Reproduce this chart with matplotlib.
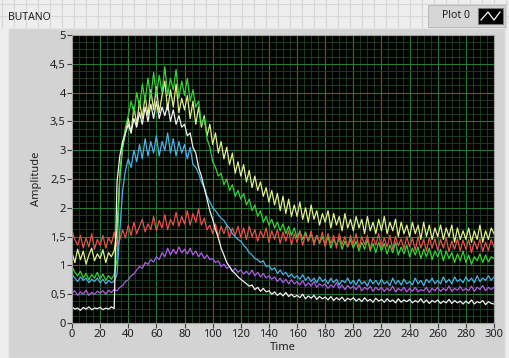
import numpy as np
import matplotlib.pyplot as plt
from matplotlib.lines import Line2D
from matplotlib.patches import Rectangle
from matplotlib.ticker import MultipleLocator

plt.rcParams['font.family'] = ['Noto Sans', 'DejaVu Sans']

time = np.arange(0, 301, 2)

yellow = [
    1.22, 1.05, 1.28, 1.10, 1.25, 1.02, 1.18, 1.30, 1.08, 1.20,
    1.12, 1.27, 1.05, 1.22, 1.15, 1.26, 1.60, 2.55, 3.05, 3.30,
    3.55, 3.30, 3.75, 3.45, 3.85, 3.55, 3.95, 3.60, 4.05, 3.70,
    4.10, 3.65, 3.95, 4.20, 3.70, 4.05, 3.75, 4.15, 3.65, 3.90,
    3.70, 3.95, 3.55, 3.85, 3.45, 3.75, 3.40, 3.60, 3.25, 3.45,
    3.10, 3.30, 2.95, 3.15, 2.85, 3.05, 2.75, 2.95, 2.60, 2.80,
    2.55, 2.75, 2.45, 2.65, 2.35, 2.55, 2.30, 2.45, 2.20, 2.35,
    2.10, 2.30, 2.05, 2.25, 1.95, 2.20, 1.90, 2.15, 1.85, 2.05,
    1.85, 2.10, 1.80, 2.00, 1.75, 2.05, 1.80, 1.95, 1.70, 1.90,
    1.75, 1.95, 1.65, 1.90, 1.70, 1.85, 1.60, 1.90, 1.65, 1.80,
    1.60, 1.85, 1.65, 1.80, 1.55, 1.85, 1.60, 1.75, 1.55, 1.80,
    1.60, 1.85, 1.55, 1.75, 1.60, 1.80, 1.50, 1.75, 1.55, 1.70,
    1.50, 1.75, 1.55, 1.70, 1.45, 1.75, 1.50, 1.70, 1.45, 1.65,
    1.50, 1.70, 1.45, 1.65, 1.50, 1.70, 1.40, 1.65, 1.45, 1.60,
    1.45, 1.65, 1.40, 1.60, 1.45, 1.70, 1.40, 1.60, 1.45, 1.65,
    1.55]

green = [
    0.98, 0.88, 0.82, 0.90, 0.78, 0.86, 0.75, 0.84, 0.78, 0.88,
    0.76, 0.85, 0.74, 0.82, 0.76, 0.84, 1.10, 2.60, 3.10, 3.40,
    3.60, 3.85, 3.65, 4.00, 3.75, 4.15, 3.85, 4.25, 3.90, 4.35,
    3.95, 4.30, 4.00, 4.45, 3.95, 4.25, 4.05, 4.40, 3.90, 4.20,
    3.95, 4.25, 3.85, 4.05, 3.75, 3.85, 3.45, 3.55, 3.20, 3.05,
    2.80, 2.70, 2.55, 2.60, 2.40, 2.50, 2.30, 2.40, 2.20, 2.30,
    2.15, 2.25, 2.05, 2.15, 1.95, 2.05, 1.85, 1.95, 1.75, 1.85,
    1.70, 1.80, 1.65, 1.75, 1.60, 1.72, 1.55, 1.68, 1.52, 1.65,
    1.48, 1.60, 1.45, 1.58, 1.42, 1.55, 1.40, 1.52, 1.38, 1.50,
    1.35, 1.50, 1.30, 1.45, 1.35, 1.48, 1.28, 1.42, 1.32, 1.45,
    1.30, 1.42, 1.25, 1.40, 1.28, 1.45, 1.25, 1.38, 1.22, 1.40,
    1.25, 1.38, 1.20, 1.35, 1.22, 1.40, 1.18, 1.32, 1.20, 1.35,
    1.15, 1.30, 1.18, 1.32, 1.12, 1.28, 1.15, 1.30, 1.10, 1.25,
    1.15, 1.28, 1.08, 1.25, 1.12, 1.22, 1.05, 1.20, 1.08, 1.25,
    1.05, 1.18, 1.02, 1.15, 1.08, 1.20, 1.05, 1.18, 1.06, 1.15,
    1.12]

red = [
    1.60, 1.45, 1.35, 1.52, 1.30, 1.48, 1.32, 1.55, 1.28, 1.45,
    1.35, 1.52, 1.30, 1.48, 1.38, 1.58, 1.32, 1.45, 1.62, 1.48,
    1.70, 1.52, 1.75, 1.55, 1.68, 1.80, 1.58, 1.72, 1.62, 1.85,
    1.60, 1.78, 1.65, 1.88, 1.62, 1.80, 1.70, 1.92, 1.68, 1.85,
    1.72, 1.95, 1.70, 1.90, 1.75, 1.98, 1.70, 1.82, 1.62, 1.70,
    1.55, 1.72, 1.50, 1.68, 1.55, 1.70, 1.48, 1.65, 1.52, 1.68,
    1.48, 1.65, 1.45, 1.68, 1.50, 1.62, 1.42, 1.60, 1.48, 1.65,
    1.40, 1.60, 1.45, 1.62, 1.38, 1.58, 1.42, 1.60, 1.36, 1.55,
    1.40, 1.58, 1.35, 1.55, 1.42, 1.60, 1.35, 1.52, 1.40, 1.58,
    1.32, 1.55, 1.38, 1.52, 1.30, 1.55, 1.36, 1.50, 1.32, 1.52,
    1.35, 1.55, 1.30, 1.50, 1.36, 1.52, 1.28, 1.48, 1.35, 1.55,
    1.30, 1.48, 1.32, 1.52, 1.28, 1.50, 1.34, 1.46, 1.28, 1.50,
    1.32, 1.48, 1.26, 1.50, 1.30, 1.45, 1.25, 1.48, 1.30, 1.46,
    1.26, 1.45, 1.30, 1.48, 1.24, 1.42, 1.28, 1.46, 1.25, 1.44,
    1.28, 1.45, 1.22, 1.42, 1.28, 1.46, 1.24, 1.40, 1.26, 1.45,
    1.32]

blue = [
    0.85, 0.78, 0.72, 0.80, 0.74, 0.78, 0.70, 0.76, 0.72, 0.78,
    0.70, 0.76, 0.68, 0.74, 0.70, 0.72, 0.85, 1.60, 2.30, 2.65,
    2.85, 2.70, 3.00, 2.80, 3.10, 2.85, 3.20, 2.90, 3.15, 2.95,
    3.25, 2.90, 3.15, 3.00, 3.30, 2.95, 3.20, 2.90, 3.15, 2.95,
    3.10, 2.85, 3.05, 2.75, 2.70, 2.60, 2.45, 2.35, 2.20, 2.10,
    2.00, 1.95, 1.88, 1.82, 1.78, 1.70, 1.65, 1.55, 1.50, 1.45,
    1.42, 1.35, 1.30, 1.22, 1.18, 1.12, 1.10, 1.05, 1.08, 0.98,
    1.00, 0.92, 0.96, 0.86, 0.92, 0.84, 0.88, 0.80, 0.85, 0.78,
    0.82, 0.76, 0.84, 0.74, 0.80, 0.72, 0.78, 0.70, 0.80, 0.72,
    0.76, 0.68, 0.78, 0.70, 0.76, 0.66, 0.74, 0.70, 0.78, 0.68,
    0.74, 0.66, 0.76, 0.68, 0.72, 0.64, 0.76, 0.68, 0.74, 0.66,
    0.76, 0.68, 0.72, 0.65, 0.78, 0.68, 0.74, 0.66, 0.76, 0.68,
    0.72, 0.66, 0.78, 0.68, 0.74, 0.65, 0.76, 0.70, 0.78, 0.68,
    0.74, 0.68, 0.80, 0.70, 0.76, 0.68, 0.80, 0.72, 0.76, 0.70,
    0.80, 0.72, 0.78, 0.70, 0.82, 0.72, 0.78, 0.74, 0.82, 0.74,
    0.80]

purple = [
    0.52, 0.56, 0.48, 0.54, 0.50, 0.57, 0.48, 0.53, 0.50, 0.55,
    0.52, 0.56, 0.50, 0.57, 0.53, 0.58, 0.56, 0.62, 0.65, 0.72,
    0.75, 0.82, 0.85, 0.92, 0.98, 0.95, 1.05, 1.02, 1.10, 1.06,
    1.15, 1.10, 1.22, 1.15, 1.30, 1.18, 1.28, 1.20, 1.32, 1.22,
    1.28, 1.20, 1.30, 1.18, 1.25, 1.15, 1.22, 1.12, 1.18, 1.10,
    1.12, 1.05, 1.08, 0.98, 1.02, 0.95, 0.98, 0.90, 0.95, 0.88,
    0.92, 0.85, 0.90, 0.84, 0.92, 0.82, 0.88, 0.80, 0.86, 0.78,
    0.82, 0.76, 0.80, 0.72, 0.78, 0.70, 0.76, 0.68, 0.75, 0.68,
    0.72, 0.66, 0.74, 0.64, 0.70, 0.64, 0.72, 0.62, 0.68, 0.64,
    0.68, 0.60, 0.66, 0.62, 0.70, 0.60, 0.66, 0.58, 0.65, 0.60,
    0.64, 0.58, 0.66, 0.56, 0.62, 0.58, 0.64, 0.55, 0.62, 0.57,
    0.62, 0.55, 0.60, 0.56, 0.64, 0.54, 0.60, 0.56, 0.62, 0.54,
    0.60, 0.55, 0.62, 0.54, 0.58, 0.56, 0.62, 0.53, 0.60, 0.56,
    0.62, 0.55, 0.60, 0.56, 0.64, 0.55, 0.60, 0.57, 0.63, 0.56,
    0.60, 0.56, 0.64, 0.55, 0.62, 0.58, 0.65, 0.56, 0.62, 0.58,
    0.62]

white = [
    0.28, 0.24, 0.26, 0.22, 0.27, 0.24, 0.28, 0.23, 0.26, 0.25,
    0.27, 0.23, 0.26, 0.24, 0.28, 0.25, 2.45, 2.90, 3.15, 3.30,
    3.45, 3.30, 3.55, 3.40, 3.65, 3.45, 3.75, 3.50, 3.80, 3.55,
    3.85, 3.55, 3.75, 3.60, 3.80, 3.50, 3.70, 3.45, 3.60, 3.40,
    3.45, 3.25, 3.30, 3.05, 2.95, 2.70, 2.55, 2.35, 2.15, 1.95,
    1.80, 1.62, 1.48, 1.30, 1.18, 1.05, 0.98, 0.90, 0.86, 0.80,
    0.76, 0.72, 0.68, 0.64, 0.66, 0.58, 0.62, 0.55, 0.60, 0.54,
    0.56, 0.50, 0.54, 0.48, 0.52, 0.47, 0.53, 0.46, 0.50, 0.45,
    0.48, 0.44, 0.50, 0.42, 0.47, 0.43, 0.48, 0.41, 0.46, 0.42,
    0.45, 0.40, 0.46, 0.39, 0.44, 0.40, 0.45, 0.38, 0.43, 0.40,
    0.44, 0.38, 0.42, 0.37, 0.44, 0.38, 0.41, 0.36, 0.43, 0.38,
    0.41, 0.36, 0.42, 0.37, 0.40, 0.35, 0.42, 0.36, 0.40, 0.37,
    0.41, 0.35, 0.39, 0.36, 0.42, 0.35, 0.40, 0.34, 0.39, 0.36,
    0.40, 0.34, 0.38, 0.35, 0.41, 0.34, 0.39, 0.35, 0.38, 0.33,
    0.38, 0.34, 0.40, 0.33, 0.37, 0.35, 0.39, 0.32, 0.37, 0.34,
    0.33]

series = [yellow, green, red, blue, purple, white]
colors = ['#e2f08a', '#35d435', '#e8524a', '#4ab4ea', '#b05ee8', '#f2f2f2']

ytick_vals = [0, 0.5, 1, 1.5, 2, 2.5, 3, 3.5, 4, 4.5, 5]
ytick_labels = ['0', '0,5', '1', '1,5', '2', '2,5', '3', '3,5', '4', '4,5', '5']
xtick_vals = list(range(0, 301, 20))

W, H = 510, 358
fig = plt.figure(figsize=(W / 100, H / 100), dpi=100)
fig.patch.set_facecolor('#eeeeee')

# bande du haut (grille de l'éditeur LabVIEW)
for gx in range(2, W, 12):
    fig.add_artist(Line2D([gx / W, gx / W], [1 - 28 / H, 1], color='#d8d8d8', lw=0.8, zorder=0.1))
for gy in range(4, 28, 12):
    fig.add_artist(Line2D([0, 1], [1 - gy / H, 1 - gy / H], color='#d8d8d8', lw=0.8, zorder=0.1))

# panneau gris du graphe
fig.add_artist(Rectangle((8 / W, 0), (W - 13) / W, 1 - 28 / H,
                         transform=fig.transFigure, facecolor='#d3d3d3',
                         edgecolor='#e6e6e6', lw=1.0, zorder=0.2))

fig.text(8 / W, 1 - 18 / H, 'BUTANO', fontsize=7.5, color='#202020', va='center', ha='left')

# légende "Plot 0"
fig.add_artist(Rectangle((428 / W, 1 - 27 / H), 77 / W, 22 / H,
                         transform=fig.transFigure, facecolor='#d6d6d6',
                         edgecolor='#bcbcbc', lw=0.8, zorder=3))
fig.text(470 / W, 1 - 16 / H, 'Plot 0', fontsize=7.5, color='#202020',
         va='center', ha='right', zorder=4)
fig.add_artist(Rectangle((478 / W, 1 - 24 / H), 25 / W, 16 / H,
                         transform=fig.transFigure, facecolor='#000000',
                         edgecolor='#777777', lw=0.8, zorder=4))
fig.add_artist(Line2D(np.array([481, 488, 494, 500]) / W,
                      1 - np.array([20, 12, 20, 12]) / H, color='white', lw=0.9, zorder=5))

ax = fig.add_axes([72 / W, 1 - 323 / H, 422 / W, 288 / H])
ax.set_zorder(2)
ax.set_facecolor('#000000')

for s, c in zip(series, colors):
    ax.plot(time, s, color=c, lw=0.9)

ax.set_xlim(0, 300)
ax.set_ylim(0, 5)
ax.set_xticks(xtick_vals)
ax.set_yticks(ytick_vals)
ax.set_yticklabels(ytick_labels)
ax.xaxis.set_minor_locator(MultipleLocator(5))
ax.yaxis.set_minor_locator(MultipleLocator(0.125))
ax.grid(which='major', color='#2a7a30', lw=0.8)
ax.grid(which='minor', color='#18461c', lw=0.6)
ax.set_axisbelow(True)
ax.tick_params(which='major', direction='out', length=3.5, width=0.8,
               color='#404040', labelsize=8, labelcolor='#202020', pad=1)
ax.tick_params(which='minor', length=0)
for sp in ax.spines.values():
    sp.set_color('#a0a0a0')
    sp.set_linewidth(0.8)

ax.set_xlabel('Time', fontsize=8, color='#202020', labelpad=1)
ax.set_ylabel('Amplitude', fontsize=8, color='#202020', labelpad=6)

fig.savefig('out.png', dpi=100, facecolor=fig.get_facecolor())
